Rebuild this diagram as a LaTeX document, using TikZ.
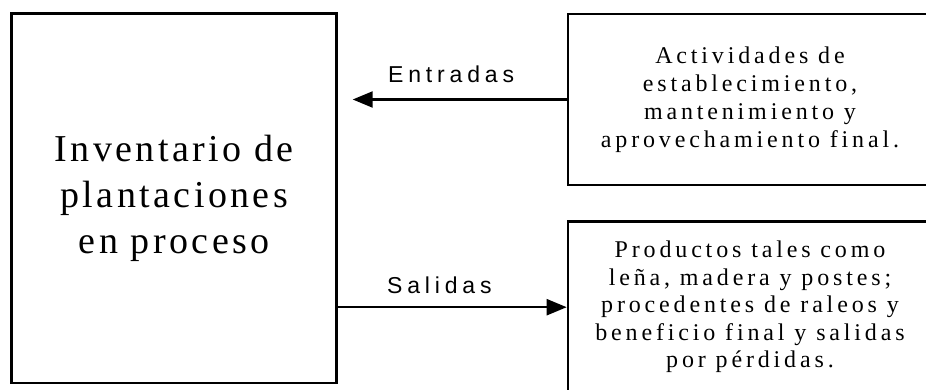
\documentclass[tikz,border=0pt]{standalone}
\usepackage{fontspec}
\setmainfont{Liberation Serif}
\newfontfamily\TextoEsp[LetterSpace=16]{Liberation Serif}
\newfontfamily\TituloEsp[LetterSpace=9]{Liberation Serif}
\newfontfamily\EtiqEsp[LetterSpace=21]{Liberation Sans}
\usetikzlibrary{arrows.meta,calc}
\definecolor{LineaClr}{rgb}{0,0,0}

\begin{document}
\begin{tikzpicture}[x=1pt,y=-1pt,
  caja/.style={draw=LineaClr,line width=2.6pt,inner sep=0pt,align=center},
  flecha/.style={draw=LineaClr,line width=2.2pt,-{Triangle[length=20pt,width=16pt]}},
  etiq/.style={inner sep=0pt,anchor=base west,font=\EtiqEsp\fontsize{23}{28}\selectfont}]
\useasboundingbox (0,0) rectangle (926,390);

\node[caja,minimum width=325pt,minimum height=369pt,
  font=\TituloEsp\fontsize{38}{46}\selectfont] (inv) at (174.2,198.3)
  {Inventario de\\plantaciones\\en proceso};

\node[caja,minimum width=364pt,minimum height=171pt,
  font=\TextoEsp\fontsize{24}{28}\selectfont] (act) at (750,99.5)
  {Actividades de\\establecimiento,\\mantenimiento y\\aprovechamiento final.};

\node[caja,minimum width=364pt,minimum height=171pt,
  font=\TextoEsp\fontsize{24}{27.5}\selectfont] (prod) at (750,307.2)
  {Productos tales como\\leña, madera y postes;\\procedentes de raleos y\\beneficio final y salidas\\por pérdidas.};

\coordinate (entra) at (352.7,99.5);

\draw[flecha] (act.west) -- (entra);
\draw[flecha] (inv.east |- prod.west) -- (prod.west);

\node[etiq] (lentra) at (388,83) {Entradas};
\node[etiq] (lsale) at (387,293) {Salidas};

\end{tikzpicture}
\end{document}
